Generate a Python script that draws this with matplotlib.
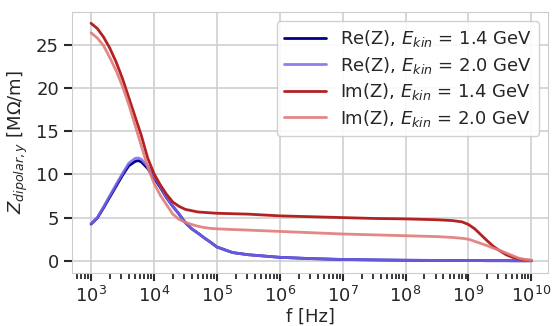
import numpy as np
import matplotlib.pyplot as plt
import matplotlib.ticker as mticker
import seaborn as sns

sns.set_style("whitegrid", {"xtick.bottom": True, "ytick.left": True,
                            "axes.edgecolor": "#cccccc"})
plt.rcParams['font.family'] = ['DejaVu Sans']

# log10 of frequency [Hz]
logf = [3.0, 3.1, 3.2, 3.3, 3.4, 3.5, 3.6, 3.7, 3.75, 3.8, 3.9, 4.0, 4.1, 4.2,
        4.3, 4.4, 4.5, 4.6, 4.7, 4.8, 4.9, 5.0, 5.25, 5.5, 6.0, 6.5, 7.0, 7.5,
        8.0, 8.5, 8.75, 8.9, 9.0, 9.1, 9.2, 9.3, 9.4, 9.5, 9.6, 9.7, 9.8, 9.9,
        10.0]

re_14 = [4.25, 4.95, 6.15, 7.4, 8.65, 9.9, 11.0, 11.5, 11.6, 11.45, 10.7, 9.6,
         8.5, 7.3, 6.3, 5.4, 4.4, 3.7, 3.2, 2.65, 2.15, 1.6, 0.95, 0.7, 0.4,
         0.25, 0.15, 0.1, 0.06, 0.04, 0.03, 0.03, 0.02, 0.02, 0.02, 0.01, 0.01,
         0.01, 0.01, 0.0, 0.0, 0.0, 0.0]
re_20 = [4.3, 5.0, 6.25, 7.55, 8.85, 10.1, 11.3, 11.85, 11.9, 11.75, 10.95, 9.8,
         8.6, 7.35, 6.3, 5.4, 4.4, 3.7, 3.2, 2.65, 2.15, 1.6, 0.95, 0.7, 0.4,
         0.25, 0.15, 0.1, 0.06, 0.04, 0.03, 0.03, 0.02, 0.02, 0.02, 0.01, 0.01,
         0.01, 0.01, 0.0, 0.0, 0.0, 0.0]
im_14 = [27.5, 26.9, 25.9, 24.6, 23.0, 21.1, 18.9, 16.7, 15.6, 14.5, 11.9, 10.1,
         8.8, 7.7, 6.8, 6.3, 5.95, 5.8, 5.65, 5.6, 5.55, 5.5, 5.45, 5.4, 5.2,
         5.1, 5.0, 4.9, 4.85, 4.75, 4.65, 4.5, 4.2, 3.7, 3.0, 2.3, 1.65, 1.15,
         0.7, 0.4, 0.2, 0.1, 0.05]
im_20 = [26.4, 25.8, 24.9, 23.5, 22.0, 20.2, 18.1, 15.7, 14.5, 13.3, 10.9, 9.0,
         7.6, 6.5, 5.4, 4.8, 4.45, 4.2, 4.0, 3.85, 3.75, 3.7, 3.62, 3.55, 3.4,
         3.25, 3.1, 3.0, 2.9, 2.8, 2.7, 2.6, 2.5, 2.25, 2.0, 1.75, 1.45, 1.2,
         0.9, 0.6, 0.3, 0.15, 0.05]

freq = 10.0 ** np.array(logf)

fig, ax = plt.subplots(figsize=(5.55, 3.26), dpi=100)
ax.plot(freq, re_14, color='#00008b', lw=2, label='Re(Z), $E_{kin}$ = 1.4 GeV')
ax.plot(freq, re_20, color='#7b68ee', lw=2, alpha=0.85, label='Re(Z), $E_{kin}$ = 2.0 GeV')
ax.plot(freq, im_14, color='#b22222', lw=2, label='Im(Z), $E_{kin}$ = 1.4 GeV')
ax.plot(freq, im_20, color='#e07a7a', lw=2, alpha=0.9, label='Im(Z), $E_{kin}$ = 2.0 GeV')

ax.set_xscale('log')
xmin, xmax = 10 ** 2.70, 10 ** 10.27
major = [10.0 ** k for k in range(3, 11)]
minor = [m * 10.0 ** k for k in range(2, 11) for m in range(2, 10)
         if xmin <= m * 10.0 ** k <= xmax]
ax.set_xticks(major)
ax.set_xticks(minor, minor=True)
ax.xaxis.set_minor_formatter(mticker.NullFormatter())
ax.set_xlim(xmin, xmax)
ax.set_ylim(-1.4, 28.8)
ax.set_yticks([0, 5, 10, 15, 20, 25])
ax.grid(True, which='major', color='#d0d0d0', lw=1.2)
ax.tick_params(axis='both', which='major', labelsize=13, length=6, width=1.5, color='#2a2a2a')
ax.tick_params(axis='x', which='minor', bottom=True, length=4, width=1.3, color='#2a2a2a')
ax.set_xlabel('f [Hz]', fontsize=13, labelpad=1)
ax.set_ylabel('$Z_{dipolar,y}$ [M$\\Omega$/m]', fontsize=13)
ax.legend(loc='upper right', fontsize=13, handlelength=2.3, borderpad=0.4,
          labelspacing=0.3, framealpha=0.9)

plt.subplots_adjust(left=0.13, right=0.988, top=0.963, bottom=0.163)
plt.savefig('out.png', dpi=100)
